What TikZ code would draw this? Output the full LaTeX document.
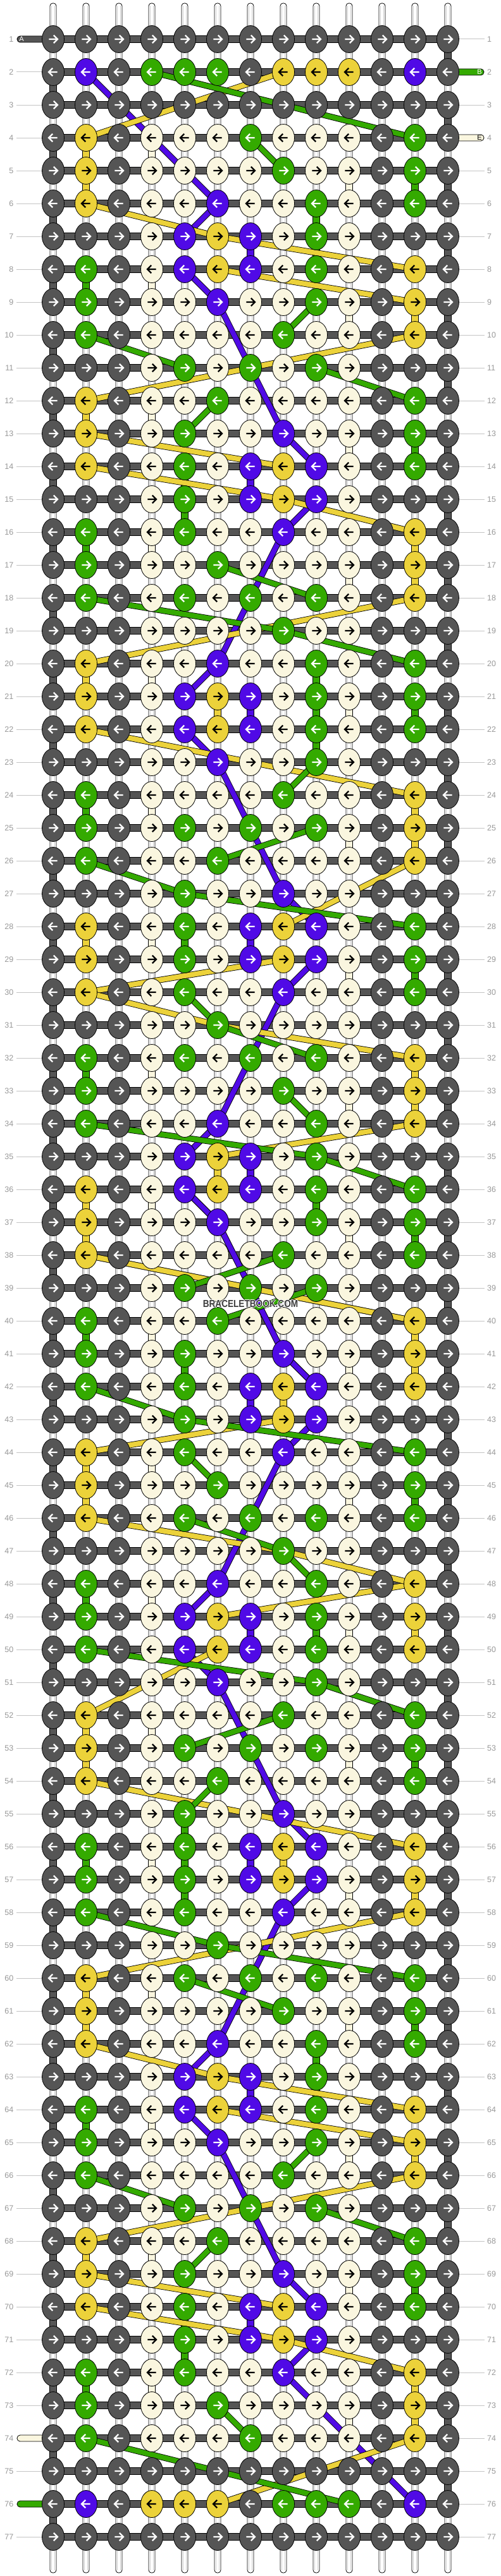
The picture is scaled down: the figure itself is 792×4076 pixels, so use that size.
\documentclass[tikz,border=0pt]{standalone}
\usepackage{fontspec}
\setmainfont{Liberation Sans}
\usetikzlibrary{shapes.geometric}
\definecolor{kd}{HTML}{555555}
\definecolor{kp}{HTML}{500AE6}
\definecolor{kg}{HTML}{34AA00}
\definecolor{ky}{HTML}{ECD23A}
\definecolor{kc}{HTML}{FAF6DF}
\colorlet{ad}{white}
\colorlet{ap}{white}
\colorlet{ag}{white}
\colorlet{ay}{black}
\colorlet{ac}{black}
\definecolor{labgray}{HTML}{999999}
\definecolor{linegray}{HTML}{C4C4C4}
\definecolor{stripgray}{HTML}{CFCFCF}
\definecolor{wmark}{HTML}{3C3C3C}
% strand with its point-mirror image (row r -> 78-r, col c -> 14-c)
\newcommand\ms[3]{%
  \foreach \pre in {k,m}{%
    \draw[sout] (\pre-#2) \foreach \p in {#3}{ -- (\pre-\p)};
    \draw[sin,draw=#1] (\pre-#2) \foreach \p in {#3}{ -- (\pre-\p)};
  }}
% vertical coloured link between row #2 and next row at column #3, with mirror
\newcommand\vl[3]{%
  \pgfmathtruncatemacro\rn{#2+1}%
  \foreach \pre in {k,m}{%
    \draw[vout] (\pre-#2-#3) -- (\pre-\rn-#3);
    \draw[vin,draw=#1] (\pre-#2-#3) -- (\pre-\rn-#3);
  }}
\newcommand\arr[4]{%
  \draw[draw=#4,line width=2.3pt,line cap=butt,line join=miter]
    (#1-6.7*#3,#2) -- (#1+6.3*#3,#2)
    (#1+0.8*#3,#2-6.2) -- (#1+7*#3,#2) -- (#1+0.8*#3,#2+6.2);}
\begin{document}
\begin{tikzpicture}[x=1pt,y=-1pt,
  knot/.style={ellipse,draw=black,line width=0.8pt,minimum width=35pt,minimum height=43pt,inner sep=0pt},
  sout/.style={draw=black,line width=9.6pt,line join=round},
  sin/.style={line width=8pt,line join=round},
  vout/.style={draw=black,line width=11.6pt},
  vin/.style={line width=10pt},
  lab/.style={text=labgray,font=\fontsize{12.5}{14}\selectfont,inner sep=0pt},
  rline/.style={draw=linegray,line width=1pt},
  stubtext/.style={font=\fontsize{11}{11}\selectfont,inner sep=0pt},
]
\useasboundingbox (0,0) rectangle (792,4076);
\fill[white] (0,0) rectangle (792,4076);
% named positions
\foreach \r in {1,...,77}{
  \foreach \c in {1,...,13}{
    \pgfmathtruncatemacro\mr{78-\r}\pgfmathtruncatemacro\mc{14-\c}
    \coordinate (k-\r-\c) at ({32+52*\c},{10+52*\r});
    \coordinate (m-\mr-\mc) at ({32+52*\c},{10+52*\r});
  }}
% row labels and guide lines
\foreach \r in {1,...,77}{
  \pgfmathsetmacro\yy{10+52*\r}
  \draw[rline] (26,\yy) -- (66,\yy);
  \draw[rline] (726,\yy) -- (766,\yy);
  \node[lab,anchor=east] (ll-\r) at (21.5,\yy) {\r};
  \node[lab,anchor=west] (rl-\r) at (770,\yy) {\r};
}
% vertical base strings
\foreach \c in {1,...,13}{
  \pgfmathsetmacro\xx{32+52*\c}
  \filldraw[fill=white,draw=black,line width=0.8pt,rounded corners=4.5pt]
    (\xx-5,5) -- (\xx+5,5) -- (\xx+5,4071) -- (\xx-5,4071) -- cycle;
  \draw[stripgray,line width=0.8pt] (\xx-2.7,9) -- (\xx-2.7,4067) (\xx+2.7,9) -- (\xx+2.7,4067);
}
% turning links of the dark working string
\foreach \r in {1,3,...,75}{\pgfmathtruncatemacro\rn{\r+1}
  \draw[vout] (k-\r-13) -- (k-\rn-13); \draw[vin,draw=kd] (k-\r-13) -- (k-\rn-13);}
\foreach \r in {2,4,...,76}{\pgfmathtruncatemacro\rn{\r+1}
  \draw[vout] (k-\r-1) -- (k-\rn-1); \draw[vin,draw=kd] (k-\r-1) -- (k-\rn-1);}
% cream links
\foreach \r in {4,8,...,72}{\pgfmathtruncatemacro\rn{\r+1}
  \draw[vout] (k-\r-4) -- (k-\rn-4); \draw[vin,draw=kc] (k-\r-4) -- (k-\rn-4);}
\foreach \r in {5,9,...,73}{\pgfmathtruncatemacro\rn{\r+1}
  \draw[vout] (k-\r-10) -- (k-\rn-10); \draw[vin,draw=kc] (k-\r-10) -- (k-\rn-10);}
% coloured vertical links
\foreach \r/\c in {4/2,5/2,9/12,12/2,16/12,17/12,20/2,21/6,24/12,25/12,28/2,32/12,33/12,35/6,36/2,37/2}{\vl{ky}{\r}{\c}}
\foreach \r/\c in {5/12,6/9,7/9,8/2,13/12,14/5,15/5,16/2,20/9,21/9,22/9,21/12,24/2,28/5,29/12,32/2,36/9,37/12}{\vl{kg}{\r}{\c}}
\foreach \r/\c in {7/7,14/7,21/7,28/7,35/7}{\vl{kp}{\r}{\c}}
% horizontal bars
\foreach \r in {1,...,77}{
  \draw[vout] (k-\r-1) -- (k-\r-13); \draw[vin,draw=kd] (k-\r-1) -- (k-\r-13);}
% string ends
\filldraw[fill=kd,draw=black,line width=0.8pt,rounded corners=4.8pt] (84,57) -- (27,57) -- (27,67) -- (84,67);
\node[stubtext,text=white] (sA) at (34,62) {A};
\filldraw[fill=kg,draw=black,line width=0.8pt,rounded corners=4.8pt] (708,109) -- (765,109) -- (765,119) -- (708,119);
\node[stubtext,text=white] (sB) at (758,114) {B};
\filldraw[fill=kc,draw=black,line width=0.8pt,rounded corners=4.8pt] (708,213) -- (765,213) -- (765,223) -- (708,223);
\node[stubtext,text=black] (sE) at (758,218) {E};
\filldraw[fill=kc,draw=black,line width=0.8pt,rounded corners=4.8pt] (84,3853) -- (27,3853) -- (27,3863) -- (84,3863);
\filldraw[fill=kg,draw=black,line width=0.8pt,rounded corners=4.8pt] (84,3957) -- (27,3957) -- (27,3967) -- (84,3967);
% strands
\ms{kp}{2-2}{6-6,7-5}
\ms{kp}{8-5}{9-6,13-8,14-9}
\ms{kp}{15-9}{16-8,20-6,21-5}
\ms{kp}{22-5}{23-6,27-8,28-9}
\ms{kp}{29-9}{30-8,34-6,35-5}
\ms{kp}{36-5}{37-6,41-8,42-9}
\ms{ky}{2-8}{4-2}
\ms{ky}{6-2}{7-6,8-12}
\ms{ky}{8-6}{9-12}
\ms{ky}{10-12}{12-2}
\ms{ky}{13-2}{14-8}
\ms{ky}{14-2}{15-8,16-12}
\ms{ky}{18-12}{20-2}
\ms{ky}{22-2}{24-12}
\ms{ky}{26-12}{28-8}
\ms{ky}{29-8}{30-2}
\ms{ky}{30-2}{31-6,32-12}
\ms{ky}{34-12}{35-6}
\ms{ky}{38-2}{40-12}
\ms{kg}{2-4}{4-12}
\ms{kg}{4-7}{5-8}
\ms{kg}{9-9}{10-8}
\ms{kg}{10-2}{11-5}
\ms{kg}{11-9}{12-12}
\ms{kg}{12-6}{13-5}
\ms{kg}{17-6}{18-9}
\ms{kg}{18-2}{19-8,20-12}
\ms{kg}{23-9}{24-8}
\ms{kg}{25-9}{26-6}
\ms{kg}{26-2}{27-5,28-12}
\ms{kg}{30-5}{31-6,32-9}
\ms{kg}{33-8}{34-9}
\ms{kg}{34-2}{35-9,36-12}
\ms{kg}{38-8}{39-5}
% knots
\foreach \row [count=\r] in {
{d,d,d,d,d,d,d,d,d,d,d,d,d},
{d,p,d,g,g,g,d,y,y,y,d,p,d},
{d,d,d,d,d,d,d,d,d,d,d,d,d},
{d,y,d,c,c,c,g,c,c,c,d,g,d},
{d,y,d,c,c,c,c,g,c,c,d,g,d},
{d,y,d,c,c,p,c,c,g,c,d,g,d},
{d,d,d,c,p,y,p,c,g,c,d,d,d},
{d,g,d,c,p,y,p,c,g,c,d,y,d},
{d,g,d,c,c,p,c,c,g,c,d,y,d},
{d,g,d,c,c,c,c,g,c,c,d,y,d},
{d,d,d,c,g,c,g,c,g,c,d,d,d},
{d,y,d,c,c,g,c,c,c,c,d,g,d},
{d,y,d,c,g,c,c,p,c,c,d,g,d},
{d,y,d,c,g,c,p,y,p,c,d,g,d},
{d,d,d,c,g,c,p,y,p,c,d,d,d},
{d,g,d,c,g,c,c,p,c,c,d,y,d},
{d,g,d,c,c,g,c,c,c,c,d,y,d},
{d,g,d,c,g,c,g,c,g,c,d,y,d},
{d,d,d,c,c,c,c,g,c,c,d,d,d},
{d,y,d,c,c,p,c,c,g,c,d,g,d},
{d,y,d,c,p,y,p,c,g,c,d,g,d},
{d,y,d,c,p,y,p,c,g,c,d,g,d},
{d,d,d,c,c,p,c,c,g,c,d,d,d},
{d,g,d,c,c,c,c,g,c,c,d,y,d},
{d,g,d,c,g,c,g,c,g,c,d,y,d},
{d,g,d,c,c,g,c,c,c,c,d,y,d},
{d,d,d,c,g,c,c,p,c,c,d,d,d},
{d,y,d,c,g,c,p,y,p,c,d,g,d},
{d,y,d,c,g,c,p,y,p,c,d,g,d},
{d,y,d,c,g,c,c,p,c,c,d,g,d},
{d,d,d,c,c,g,c,c,c,c,d,d,d},
{d,g,d,c,g,c,g,c,g,c,d,y,d},
{d,g,d,c,c,c,c,g,c,c,d,y,d},
{d,g,d,c,c,p,c,c,g,c,d,y,d},
{d,d,d,c,p,y,p,c,g,c,d,d,d},
{d,y,d,c,p,y,p,c,g,c,d,g,d},
{d,y,d,c,c,p,c,c,g,c,d,g,d},
{d,y,d,c,c,c,c,g,c,c,d,g,d},
{d,d,d,c,g,c,g,c,g,c,d,d,d},
{d,g,d,c,c,g,c,c,c,c,d,y,d},
{d,g,d,c,g,c,c,p,c,c,d,y,d},
{d,g,d,c,g,c,p,y,p,c,d,y,d},
{d,d,d,c,g,c,p,y,p,c,d,d,d},
{d,y,d,c,g,c,c,p,c,c,d,g,d},
{d,y,d,c,c,g,c,c,c,c,d,g,d},
{d,y,d,c,g,c,g,c,g,c,d,g,d},
{d,d,d,c,c,c,c,g,c,c,d,d,d},
{d,g,d,c,c,p,c,c,g,c,d,y,d},
{d,g,d,c,p,y,p,c,g,c,d,y,d},
{d,g,d,c,p,y,p,c,g,c,d,y,d},
{d,d,d,c,c,p,c,c,g,c,d,d,d},
{d,y,d,c,c,c,c,g,c,c,d,g,d},
{d,y,d,c,g,c,g,c,g,c,d,g,d},
{d,y,d,c,c,g,c,c,c,c,d,g,d},
{d,d,d,c,g,c,c,p,c,c,d,d,d},
{d,g,d,c,g,c,p,y,p,c,d,y,d},
{d,g,d,c,g,c,p,y,p,c,d,y,d},
{d,g,d,c,g,c,c,p,c,c,d,y,d},
{d,d,d,c,c,g,c,c,c,c,d,d,d},
{d,y,d,c,g,c,g,c,g,c,d,g,d},
{d,y,d,c,c,c,c,g,c,c,d,g,d},
{d,y,d,c,c,p,c,c,g,c,d,g,d},
{d,d,d,c,p,y,p,c,g,c,d,d,d},
{d,g,d,c,p,y,p,c,g,c,d,y,d},
{d,g,d,c,c,p,c,c,g,c,d,y,d},
{d,g,d,c,c,c,c,g,c,c,d,y,d},
{d,d,d,c,g,c,g,c,g,c,d,d,d},
{d,y,d,c,c,g,c,c,c,c,d,g,d},
{d,y,d,c,g,c,c,p,c,c,d,g,d},
{d,y,d,c,g,c,p,y,p,c,d,g,d},
{d,d,d,c,g,c,p,y,p,c,d,d,d},
{d,g,d,c,g,c,c,p,c,c,d,y,d},
{d,g,d,c,c,g,c,c,c,c,d,y,d},
{d,g,d,c,c,c,g,c,c,c,d,y,d},
{d,d,d,d,d,d,d,d,d,d,d,d,d},
{d,p,d,y,y,y,d,g,g,g,d,p,d},
{d,d,d,d,d,d,d,d,d,d,d,d,d}}{
  \pgfmathsetmacro\dir{ifthenelse(isodd(\r),1,-1)}
  \foreach \k [count=\c] in \row {
    \node[knot,fill=k\k] (n-\r-\c) at (k-\r-\c) {};
    \pgfmathsetmacro\xx{32+52*\c}\pgfmathsetmacro\yy{10+52*\r}
    \arr{\xx}{\yy}{\dir}{a\k}
  }
}
% watermark
\foreach \dx/\dy in {-1/0,1/0,0/-1,0/1}{
  \node[text=white,font=\bfseries\fontsize{16}{16}\selectfont,inner sep=0pt] at (396+\dx,2063+\dy) {\scalebox{0.85}[1]{BRACELETBOOK.COM}};}
\node[text=wmark,font=\bfseries\fontsize{16}{16}\selectfont,inner sep=0pt] (wm) at (396,2063) {\scalebox{0.85}[1]{BRACELETBOOK.COM}};
\end{tikzpicture}
\end{document}
